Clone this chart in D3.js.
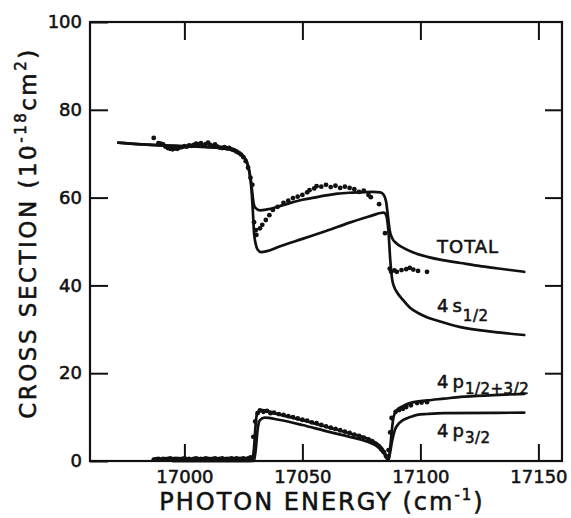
<!DOCTYPE html>
<html>
<head>
<meta charset="utf-8">
<script src="https://cdn.jsdelivr.net/npm/d3@7"></script>
<style>
  html, body { margin: 0; padding: 0; background: #fff; }
  svg { display: block; }
  text { font-family: "DejaVu Sans", sans-serif; fill: #111; stroke: #111; stroke-width: 0.55px; }
</style>
</head>
<body>
<svg id="chart" width="571" height="518"></svg>
<script>
// Photoionization cross section vs photon energy (cm^-1), units of 1e-18 cm^2

const xTicks = [17000, 17050, 17100, 17150];
const yTicks = [0, 20, 40, 60, 80, 100];

// Theory curves: [energy, cross section]
const totalCurve = [
  [16972, 72.5], [16980, 72.2], [16990, 71.9], [17000, 71.7], [17010, 71.5],
  [17015, 71.3], [17020, 70.9], [17023, 70.3], [17025, 69.4], [17026.5, 68.0],
  [17027.5, 66.0], [17028.4, 63.0], [17029, 60.0], [17029.5, 58.3], [17030.2, 57.6],
  [17032, 57.1], [17035, 57.3], [17040, 58.0], [17045, 58.8], [17050, 59.5],
  [17055, 60.0], [17060, 60.5], [17065, 60.9], [17070, 61.1], [17075, 61.2],
  [17080, 61.3], [17083, 61.2], [17084.5, 60.6], [17085.5, 59.0], [17086.2, 56.0],
  [17087, 52.5], [17088, 50.8], [17090, 49.5], [17093, 48.5], [17097, 47.5],
  [17103, 46.5], [17110, 45.7], [17117, 45.1], [17124, 44.5], [17131, 44.0],
  [17138, 43.5], [17144, 43.1]
];

const s12Curve = [
  [16972, 72.5], [16980, 72.2], [16990, 71.9], [17000, 71.7], [17010, 71.5],
  [17015, 71.3], [17020, 70.9], [17023, 70.3], [17025, 69.4], [17026.5, 68.0],
  [17027.5, 66.0], [17028.4, 62.0], [17029, 57.0], [17029.5, 52.0], [17030.2, 49.5],
  [17031, 48.2], [17032.5, 47.6], [17035, 47.8], [17040, 48.8], [17050, 50.6],
  [17060, 52.4], [17070, 54.3], [17080, 56.0], [17083, 56.5], [17084.5, 56.6],
  [17085.5, 56.0], [17086.5, 52.0], [17087.2, 46.0], [17088, 41.5], [17089, 39.5],
  [17090, 38.5], [17092.6, 36.7], [17095.6, 34.9], [17099.8, 33.5], [17103, 32.7],
  [17107, 32.0], [17117, 30.5], [17131, 29.4], [17144, 28.7]
];

const p12p32Curve = [
  [16995, 0], [17028, 0], [17028.8, 0.5], [17029.5, 3], [17030, 7], [17030.5, 10],
  [17031.2, 11.2], [17033, 11.6], [17040, 10.6], [17050, 9.3], [17060, 7.8],
  [17070, 6.3], [17078, 5.0], [17082, 3.8], [17084.5, 2.3], [17086, 0.6],
  [17086.6, 0.2], [17087.2, 3], [17088, 7.5], [17088.6, 10], [17090, 11.6],
  [17092.6, 12.5], [17095.6, 13.2], [17102.8, 13.8], [17110, 14.2], [17117, 14.6],
  [17131, 15.0], [17144, 15.3]
];

const p32Curve = [
  [16995, 0], [17029.5, 0], [17030.3, 3], [17031, 7], [17032, 9.3], [17034, 9.9],
  [17040, 9.4], [17050, 8.2], [17060, 6.8], [17070, 5.5], [17078, 4.3],
  [17082, 3.2], [17084.5, 1.8], [17086.3, 0.2], [17087, 1.5], [17088, 4.5],
  [17089.2, 7.1], [17090.5, 8.3], [17092.6, 9.3], [17095.6, 10.0], [17098.6, 10.5],
  [17103, 10.7], [17110, 10.9], [17144, 11.0]
];

// Measured points, total cross section
const totalPoints = [
  [16987, 73.6], [16989, 72.4], [16990, 72.3], [16991, 72.1], [16992, 71.6],
  [16993, 71.3], [16994, 71.1], [16995, 71.0], [16996, 71.2], [16997, 71.1],
  [16998, 71.4], [16999, 71.5], [17000, 71.7], [17001, 71.6], [17002, 71.9],
  [17003, 71.8], [17004, 72.0], [17005, 72.3], [17006, 72.1], [17007, 72.4],
  [17008, 71.9], [17009, 72.2], [17010, 72.5], [17011, 72.0], [17012, 71.7],
  [17013, 72.1], [17014, 71.6], [17015, 71.4], [17016, 71.3], [17017, 71.5],
  [17018, 71.2], [17019, 71.3], [17020, 71.0], [17021, 70.8], [17022, 70.5],
  [17023, 70.2], [17024, 69.8], [17025, 69.2], [17026, 68.3], [17027, 66.8],
  [17028, 64.5], [17028.8, 62.9], [17029.5, 54.4], [17030.3, 52.6], [17030.5, 51.5],
  [17032, 53.0], [17033, 53.8], [17034.5, 54.9], [17036, 56.0], [17037.5, 57.2],
  [17039.5, 57.9], [17042, 58.8], [17044, 59.3], [17046, 59.9], [17048, 60.2],
  [17050, 60.6], [17052, 61.2], [17053, 61.7], [17055, 62.1], [17056, 62.6],
  [17058, 62.5], [17060, 62.9], [17062, 62.4], [17064, 62.7], [17066, 62.2],
  [17068, 62.5], [17070, 62.2], [17072, 61.9], [17074, 61.3], [17076, 61.6],
  [17078, 60.6], [17079, 60.1], [17082.5, 58.5], [17085, 51.9], [17087, 43.8],
  [17087.6, 43.1], [17089, 43.4], [17090, 43.1], [17092, 43.5], [17094, 43.7],
  [17095.5, 44.0], [17097, 43.6], [17099, 43.3], [17102.8, 43.1]
];

// Measured points, 4p cross section
const pPoints = [
  [16987, 0.3], [16988, 0.4], [16989, 0.5], [16990, 0.3], [16991, 0.5],
  [16992, 0.4], [16993, 0.5], [16994, 0.6], [16995, 0.4], [16996, 0.5],
  [16997, 0.5], [16998, 0.4], [16999, 0.5], [17000, 0.6], [17001, 0.4],
  [17002, 0.5], [17003, 0.3], [17004, 0.5], [17005, 0.6], [17006, 0.4],
  [17007, 0.5], [17008, 0.4], [17009, 0.6], [17010, 0.5], [17011, 0.4],
  [17012, 0.5], [17013, 0.6], [17014, 0.4], [17015, 0.5], [17016, 0.6],
  [17017, 0.4], [17018, 0.5], [17019, 0.5], [17020, 0.6], [17021, 0.4],
  [17022, 0.6], [17023, 0.5], [17024, 0.5], [17025, 0.6], [17026, 0.4],
  [17027, 0.6], [17028, 0.8], [17029.2, 5.5], [17030, 9.0], [17031, 10.9],
  [17032, 11.5], [17033.5, 11.2], [17035, 11.4], [17036.5, 10.9], [17038, 11.0],
  [17040, 10.7], [17042, 10.5], [17044, 10.2], [17046, 10.0], [17048, 9.7],
  [17050, 9.4], [17052, 9.2], [17054, 8.8], [17056, 8.6], [17058, 8.2],
  [17060, 7.9], [17062, 7.6], [17064, 7.3], [17066, 7.0], [17068, 6.7],
  [17070, 6.4], [17072, 6.0], [17074, 5.7], [17076, 5.3], [17078, 4.9],
  [17079.5, 4.5], [17081, 3.9], [17082.5, 3.3], [17083.5, 2.6], [17084.5, 2.0],
  [17085.5, 1.1], [17086.5, 2.5], [17087.2, 6.5], [17087.8, 9.8], [17089.5, 11.2],
  [17091, 11.6], [17092.6, 11.9], [17094, 12.3], [17096, 12.7], [17098.6, 13.2],
  [17100.5, 13.3], [17102.8, 13.4]
];

const svg = d3.select("#chart");
const x = d3.scaleLinear().domain([16960, 17160]).range([90, 562]);
const y = d3.scaleLinear().domain([0, 100]).range([461, 22]);

// Frame
svg.append("rect")
  .attr("x", x.range()[0]).attr("y", y.range()[1])
  .attr("width", x.range()[1] - x.range()[0])
  .attr("height", y.range()[0] - y.range()[1])
  .attr("fill", "none").attr("stroke", "#111").attr("stroke-width", 2.2);

function styleAxis(g) {
  g.select(".domain").remove();
  g.selectAll(".tick line").attr("stroke", "#111").attr("stroke-width", 2);
  g.selectAll(".tick text").attr("font-family", "DejaVu Sans, sans-serif")
    .attr("font-size", 18).attr("fill", "#111");
}

// Inward ticks on all four sides, labels on left and bottom
svg.append("g").attr("transform", `translate(0,${y(0)})`)
  .call(d3.axisBottom(x).tickValues(xTicks).tickSizeInner(-17).tickSizeOuter(0).tickPadding(9).tickFormat(d3.format("d")))
  .call(styleAxis);
svg.append("g").attr("transform", `translate(0,${y(100)})`)
  .call(d3.axisBottom(x).tickValues(xTicks).tickSize(18).tickFormat(""))
  .call(styleAxis);
svg.append("g").attr("transform", `translate(${x(16960)},0)`)
  .call(d3.axisLeft(y).tickValues(yTicks).tickSizeInner(-18).tickSizeOuter(0).tickPadding(8).tickFormat(d3.format("d")))
  .call(styleAxis);
svg.append("g").attr("transform", `translate(${x(17160)},0)`)
  .call(d3.axisLeft(y).tickValues(yTicks.slice(1, -1)).tickSize(17).tickFormat(""))
  .call(styleAxis);

// Theory curves
const line = d3.line().x(d => x(d[0])).y(d => y(d[1])).curve(d3.curveMonotoneX);
[totalCurve, s12Curve, p12p32Curve, p32Curve].forEach(c => {
  svg.append("path").datum(c).attr("d", line)
    .attr("fill", "none").attr("stroke", "#111").attr("stroke-width", 2.7)
    .attr("stroke-linejoin", "round").attr("stroke-linecap", "round");
});

// Measured points
svg.append("g").selectAll("circle").data(totalPoints.concat(pPoints)).join("circle")
  .attr("cx", d => x(d[0])).attr("cy", d => y(d[1])).attr("r", 2.4).attr("fill", "#111");

// Curve labels
function label(xp, yp, main, sub, subDy) {
  const t = svg.append("text").attr("x", xp).attr("y", yp).attr("font-size", 18);
  if (main === "TOTAL") {
    t.append("tspan").text(main).attr("letter-spacing", 1);
  } else {
    t.append("tspan").text(main[0]);
    t.append("tspan").text(main.slice(1)).attr("dx", 4);
  }
  if (sub) t.append("tspan").text(sub).attr("font-size", 15).attr("dy", subDy).attr("dx", 1).attr("letter-spacing", 0.5);
}
label(437, 253, "TOTAL");
label(437, 312, "4s", "1/2", 9);
label(437, 388, "4p", "1/2+3/2", 6);
label(437, 437, "4p", "3/2", 6);

// Axis titles
const xt = svg.append("text").attr("x", 322).attr("y", 510).attr("text-anchor", "middle")
  .attr("font-size", 24).attr("letter-spacing", 2);
xt.append("tspan").text("PHOTON ENERGY (cm");
xt.append("tspan").text("-1").attr("font-size", 15).attr("dy", -10);
xt.append("tspan").text(")").attr("dy", 10);

const yt = svg.append("text").attr("transform", "translate(36,233) rotate(-90)")
  .attr("text-anchor", "middle").attr("font-size", 23).attr("letter-spacing", 2.5);
yt.append("tspan").text("CROSS SECTION (10");
yt.append("tspan").text("-18").attr("font-size", 15).attr("dy", -10);
yt.append("tspan").text("cm").attr("dy", 10);
yt.append("tspan").text("2").attr("font-size", 15).attr("dy", -10);
yt.append("tspan").text(")").attr("dy", 10);
</script>
</body>
</html>
